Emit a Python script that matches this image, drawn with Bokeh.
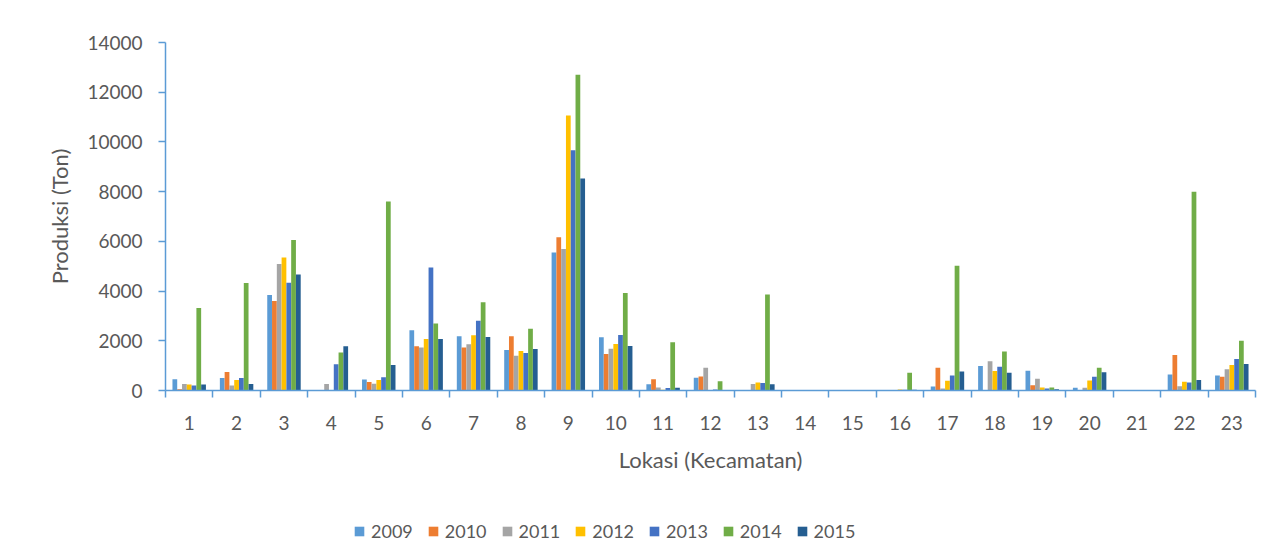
from bokeh.plotting import figure
from bokeh.layouts import column
from bokeh.models import Range1d, FixedTicker, Legend, LegendItem, ColumnDataSource
from bokeh.transform import dodge
from bokeh.embed import file_html
from bokeh.resources import INLINE

categories = [str(i) for i in range(1, 24)]
years = ["2009", "2010", "2011", "2012", "2013", "2014", "2015"]

v2009 = [450, 500, 3840, 0, 440, 2420, 2180, 1630, 5550, 2140, 250, 510, 0, 0, 0, 0, 160, 990, 790, 110, 0, 640, 600]
v2010 = [50, 740, 3600, 0, 340, 1780, 1730, 2180, 6170, 1470, 450, 560, 0, 0, 0, 0, 920, 0, 210, 0, 0, 1430, 550]
v2011 = [260, 200, 5090, 260, 270, 1730, 1860, 1400, 5690, 1680, 120, 920, 260, 0, 0, 0, 80, 1180, 470, 110, 0, 170, 850]
v2012 = [240, 420, 5350, 20, 420, 2070, 2220, 1590, 11060, 1870, 30, 0, 320, 0, 0, 40, 390, 780, 120, 400, 0, 350, 1030]
v2013 = [200, 500, 4330, 1060, 530, 4950, 2810, 1510, 9670, 2230, 100, 40, 300, 0, 0, 30, 600, 960, 80, 550, 0, 320, 1270]
v2014 = [3320, 4320, 6050, 1530, 7600, 2700, 3550, 2480, 12700, 3920, 1940, 370, 3860, 0, 0, 710, 5020, 1570, 120, 920, 0, 8000, 2000]
v2015 = [240, 260, 4670, 1780, 1025, 2070, 2150, 1670, 8530, 1790, 110, 0, 250, 0, 0, 30, 760, 710, 50, 730, 0, 420, 1070]

series = [v2009, v2010, v2011, v2012, v2013, v2014, v2015]
colors = ["#5b9bd5", "#ed7d31", "#a5a5a5", "#ffc000", "#4472c4", "#70ad47", "#255e91"]

data = {"x": list(range(1, len(categories) + 1))}
for yr, vals in zip(years, series):
    data["y" + yr] = vals
src = ColumnDataSource(data)

FONT = "Lato"
TXT = "#595959"
AX = "#5b9bd5"

p = figure(x_range=Range1d(0.5, 23.5), y_range=Range1d(0, 14000),
           frame_width=1090, frame_height=348,
           min_border_left=165, min_border_right=8, min_border_top=42, min_border_bottom=100,
           output_backend="svg", toolbar_location=None)

for i, yr in enumerate(years):
    p.vbar(x=dodge("x", (i - 3) * 0.101, range=p.x_range), top="y" + yr, width=0.1,
           source=src, fill_color=colors[i], line_color=None)

p.xgrid.grid_line_color = None
p.ygrid.grid_line_color = None
p.outline_line_color = None
p.background_fill_color = "white"
p.border_fill_color = "white"

# x axis
xa = p.xaxis[0]
xa.ticker = FixedTicker(ticks=list(range(1, 24)), minor_ticks=[i + 0.5 for i in range(0, 24)])
xa.major_label_overrides = {i + 1: c for i, c in enumerate(categories)}
xa.major_tick_out = 0
xa.major_tick_in = 0
xa.minor_tick_out = 7
xa.minor_tick_in = 0
xa.minor_tick_line_color = AX
xa.minor_tick_line_width = 1.5
xa.axis_line_color = AX
xa.axis_line_width = 1.5
xa.major_label_standoff = 18
xa.major_label_text_font = FONT
xa.major_label_text_font_size = "19px"
xa.major_label_text_color = TXT
xa.axis_label = "Lokasi (Kecamatan)"
xa.axis_label_text_font = FONT
xa.axis_label_text_font_size = "22px"
xa.axis_label_text_font_style = "normal"
xa.axis_label_text_color = TXT
xa.axis_label_standoff = 13

# y axis
ya = p.yaxis[0]
ya.ticker = FixedTicker(ticks=[0, 2000, 4000, 6000, 8000, 10000, 12000, 14000])
ya.minor_tick_line_color = None
ya.major_tick_out = 7
ya.major_tick_in = 0
ya.major_tick_line_color = AX
ya.major_tick_line_width = 1.5
ya.axis_line_color = AX
ya.axis_line_width = 1.5
ya.major_label_standoff = 16
ya.major_label_text_font = FONT
ya.major_label_text_font_size = "19px"
ya.major_label_text_color = TXT
ya.axis_label = "Produksi (Ton)"
ya.axis_label_text_font = FONT
ya.axis_label_text_font_size = "22px"
ya.axis_label_text_font_style = "normal"
ya.axis_label_text_color = TXT
ya.axis_label_standoff = 11

# legend strip below the chart; its renderers use the same data but lie outside the visible y range
lg = figure(width=1263, height=70, x_range=Range1d(0.5, 23.5), y_range=Range1d(-2, -1),
            min_border=0, output_backend="svg", toolbar_location=None)
lg.axis.visible = False
lg.grid.grid_line_color = None
lg.outline_line_color = None
lg.background_fill_color = "white"
lg.border_fill_color = "white"
items = []
for i, yr in enumerate(years):
    r = lg.quad(left="x", right="x", bottom=0, top="y" + yr, source=src,
                fill_color=colors[i], line_color=None)
    items.append(LegendItem(label=yr, renderers=[r]))

legend = Legend(items=items, orientation="horizontal", location=(188, 18),
                padding=0, margin=0, border_line_color=None, background_fill_alpha=0,
                glyph_width=12, glyph_height=12, label_standoff=6, spacing=14,
                label_text_font=FONT, label_text_font_size="18px", label_text_color=TXT)
lg.add_layout(legend)

layout = column(p, lg, spacing=0)
open("out.html", "w").write(file_html(layout, INLINE))
